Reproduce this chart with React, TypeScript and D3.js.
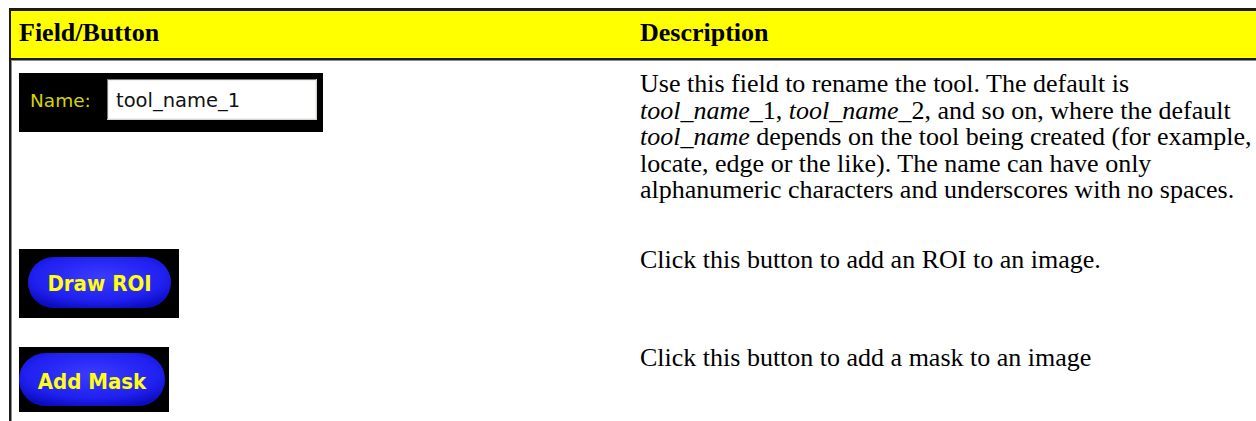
import React, { useRef, useEffect } from 'react';
import * as d3 from 'd3';

// [text, italic]
type Seg = [string, boolean];

const headers = ['Field/Button', 'Description'];
const widgetKinds = ['field', 'button', 'button'];
const widgetLabels = ['Name:', 'Draw ROI', 'Add Mask'];
const fieldValue = 'tool_name_1';
const descriptions: Seg[][][] = [
  [
    [['Use this field to rename the tool. The default is', false]],
    [['tool_name', true], ['_1, ', false], ['tool_name', true], ['_2, and so on, where the default', false]],
    [['tool_name', true], [' depends on the tool being created (for example,', false]],
    [['locate, edge or the like). The name can have only', false]],
    [['alphanumeric characters and underscores with no spaces.', false]],
  ],
  [[['Click this button to add an ROI to an image.', false]]],
  [[['Click this button to add a mask to an image', false]]],
];

const W = 1256;
const H = 421;
const SERIF = '"Liberation Serif", "Times New Roman", serif';
const SANS = '"DejaVu Sans", Verdana, sans-serif';
const BTN = '"DejaVu Sans Condensed", "DejaVu Sans", sans-serif';

const App: React.FC = () => {
  const svgRef = useRef<SVGSVGElement>(null);

  useEffect(() => {
    if (!svgRef.current) return;
    const svg = d3.select(svgRef.current);
    svg.selectAll('*').remove();

    const colX = [19, 640];
    const rowTops = [61, 237, 335];
    const lineY = d3.scaleLinear().domain([0, 1]).range([31, 31 + 26.5]);
    // widget boxes: [width, height]
    const boxSize = [[304, 59], [160, 69], [150, 65]];

    const defs = svg.append('defs');
    const grad = defs.append('radialGradient')
      .attr('id', 'pill')
      .attr('cx', '50%').attr('cy', '40%').attr('r', '65%');
    grad.append('stop').attr('offset', '0%').attr('stop-color', '#3b3bff');
    grad.append('stop').attr('offset', '70%').attr('stop-color', '#2020f0');
    grad.append('stop').attr('offset', '100%').attr('stop-color', '#0c0cc0');

    // header band
    svg.append('rect').attr('x', 11).attr('y', 11).attr('width', W - 11).attr('height', 47).attr('fill', '#ffff00');
    svg.append('rect').attr('x', 9).attr('y', 8).attr('width', W - 9).attr('height', 3).attr('fill', '#1a1a1a');
    svg.append('rect').attr('x', 9).attr('y', 58).attr('width', W - 9).attr('height', 2).attr('fill', '#1a1a1a');
    svg.append('rect').attr('x', 9).attr('y', 60).attr('width', W - 9).attr('height', 1).attr('fill', '#8c8c8c');
    // left border
    svg.append('rect').attr('x', 9).attr('y', 8).attr('width', 2).attr('height', H - 8).attr('fill', '#1a1a1a');
    svg.append('rect').attr('x', 11).attr('y', 61).attr('width', 1).attr('height', H - 61).attr('fill', '#8c8c8c');

    headers.forEach((h, i) => {
      svg.append('text')
        .attr('x', colX[i])
        .attr('y', 41)
        .attr('font-family', SERIF)
        .attr('font-weight', 'bold')
        .attr('font-size', 26)
        .attr('fill', '#000')
        .text(h);
    });

    descriptions.forEach((lines, r) => {
      lines.forEach((segs, li) => {
        const t = svg.append('text')
          .attr('x', colX[1])
          .attr('y', rowTops[r] + lineY(li))
          .attr('font-family', SERIF)
          .attr('font-size', 26)
          .attr('fill', '#000')
          .style('white-space', 'pre');
        segs.forEach(([txt, it]) => {
          t.append('tspan')
            .attr('font-style', it ? 'italic' : 'normal')
            .text(txt);
        });
      });
    });

    widgetKinds.forEach((kind, r) => {
      const [bw, bh] = boxSize[r];
      const g = svg.append('g').attr('transform', `translate(${colX[0]},${rowTops[r] + 12})`);
      g.append('rect').attr('width', bw).attr('height', bh).attr('fill', '#000');
      if (kind === 'field') {
        g.append('text')
          .attr('x', 11).attr('y', 34)
          .attr('font-family', SANS).attr('font-size', 18.5)
          .attr('fill', '#d6d400')
          .text(widgetLabels[r]);
        const fx = 88, fy = 6, fw = 210, fh = 41;
        g.append('rect').attr('x', fx).attr('y', fy).attr('width', fw).attr('height', fh).attr('fill', '#d8d4cc');
        g.append('rect').attr('x', fx).attr('y', fy).attr('width', fw - 1).attr('height', fh - 1).attr('fill', '#7a7a7a');
        g.append('rect').attr('x', fx + 1).attr('y', fy + 1).attr('width', fw - 2).attr('height', fh - 2).attr('fill', '#f0f0f0');
        g.append('rect').attr('x', fx + 2).attr('y', fy + 2).attr('width', fw - 4).attr('height', fh - 4).attr('fill', '#ffffff');
        g.append('text')
          .attr('x', 97).attr('y', 34)
          .attr('font-family', SANS).attr('font-size', 19.5)
          .attr('fill', '#111')
          .text(fieldValue);
      } else {
        const px = r === 1 ? 9 : 0;
        const py = r === 1 ? 8 : 6;
        const pw = r === 1 ? 143 : 146;
        const ph = r === 1 ? 51 : 53;
        g.append('rect')
          .attr('x', px).attr('y', py)
          .attr('width', pw).attr('height', ph)
          .attr('rx', ph / 2).attr('ry', ph / 2)
          .attr('fill', 'url(#pill)');
        g.append('text')
          .attr('x', px + pw / 2)
          .attr('y', 42)
          .attr('text-anchor', 'middle')
          .attr('font-family', BTN).attr('font-weight', 'bold').attr('font-size', 22)
          .attr('fill', '#ffff10')
          .text(widgetLabels[r]);
      }
    });
  }, []);

  return (
    <div style={{ position: 'absolute', left: 0, top: 0, width: W, height: H, background: '#fff' }}>
      <svg ref={svgRef} width={W} height={H} style={{ display: 'block' }} />
    </div>
  );
};

export default App;
